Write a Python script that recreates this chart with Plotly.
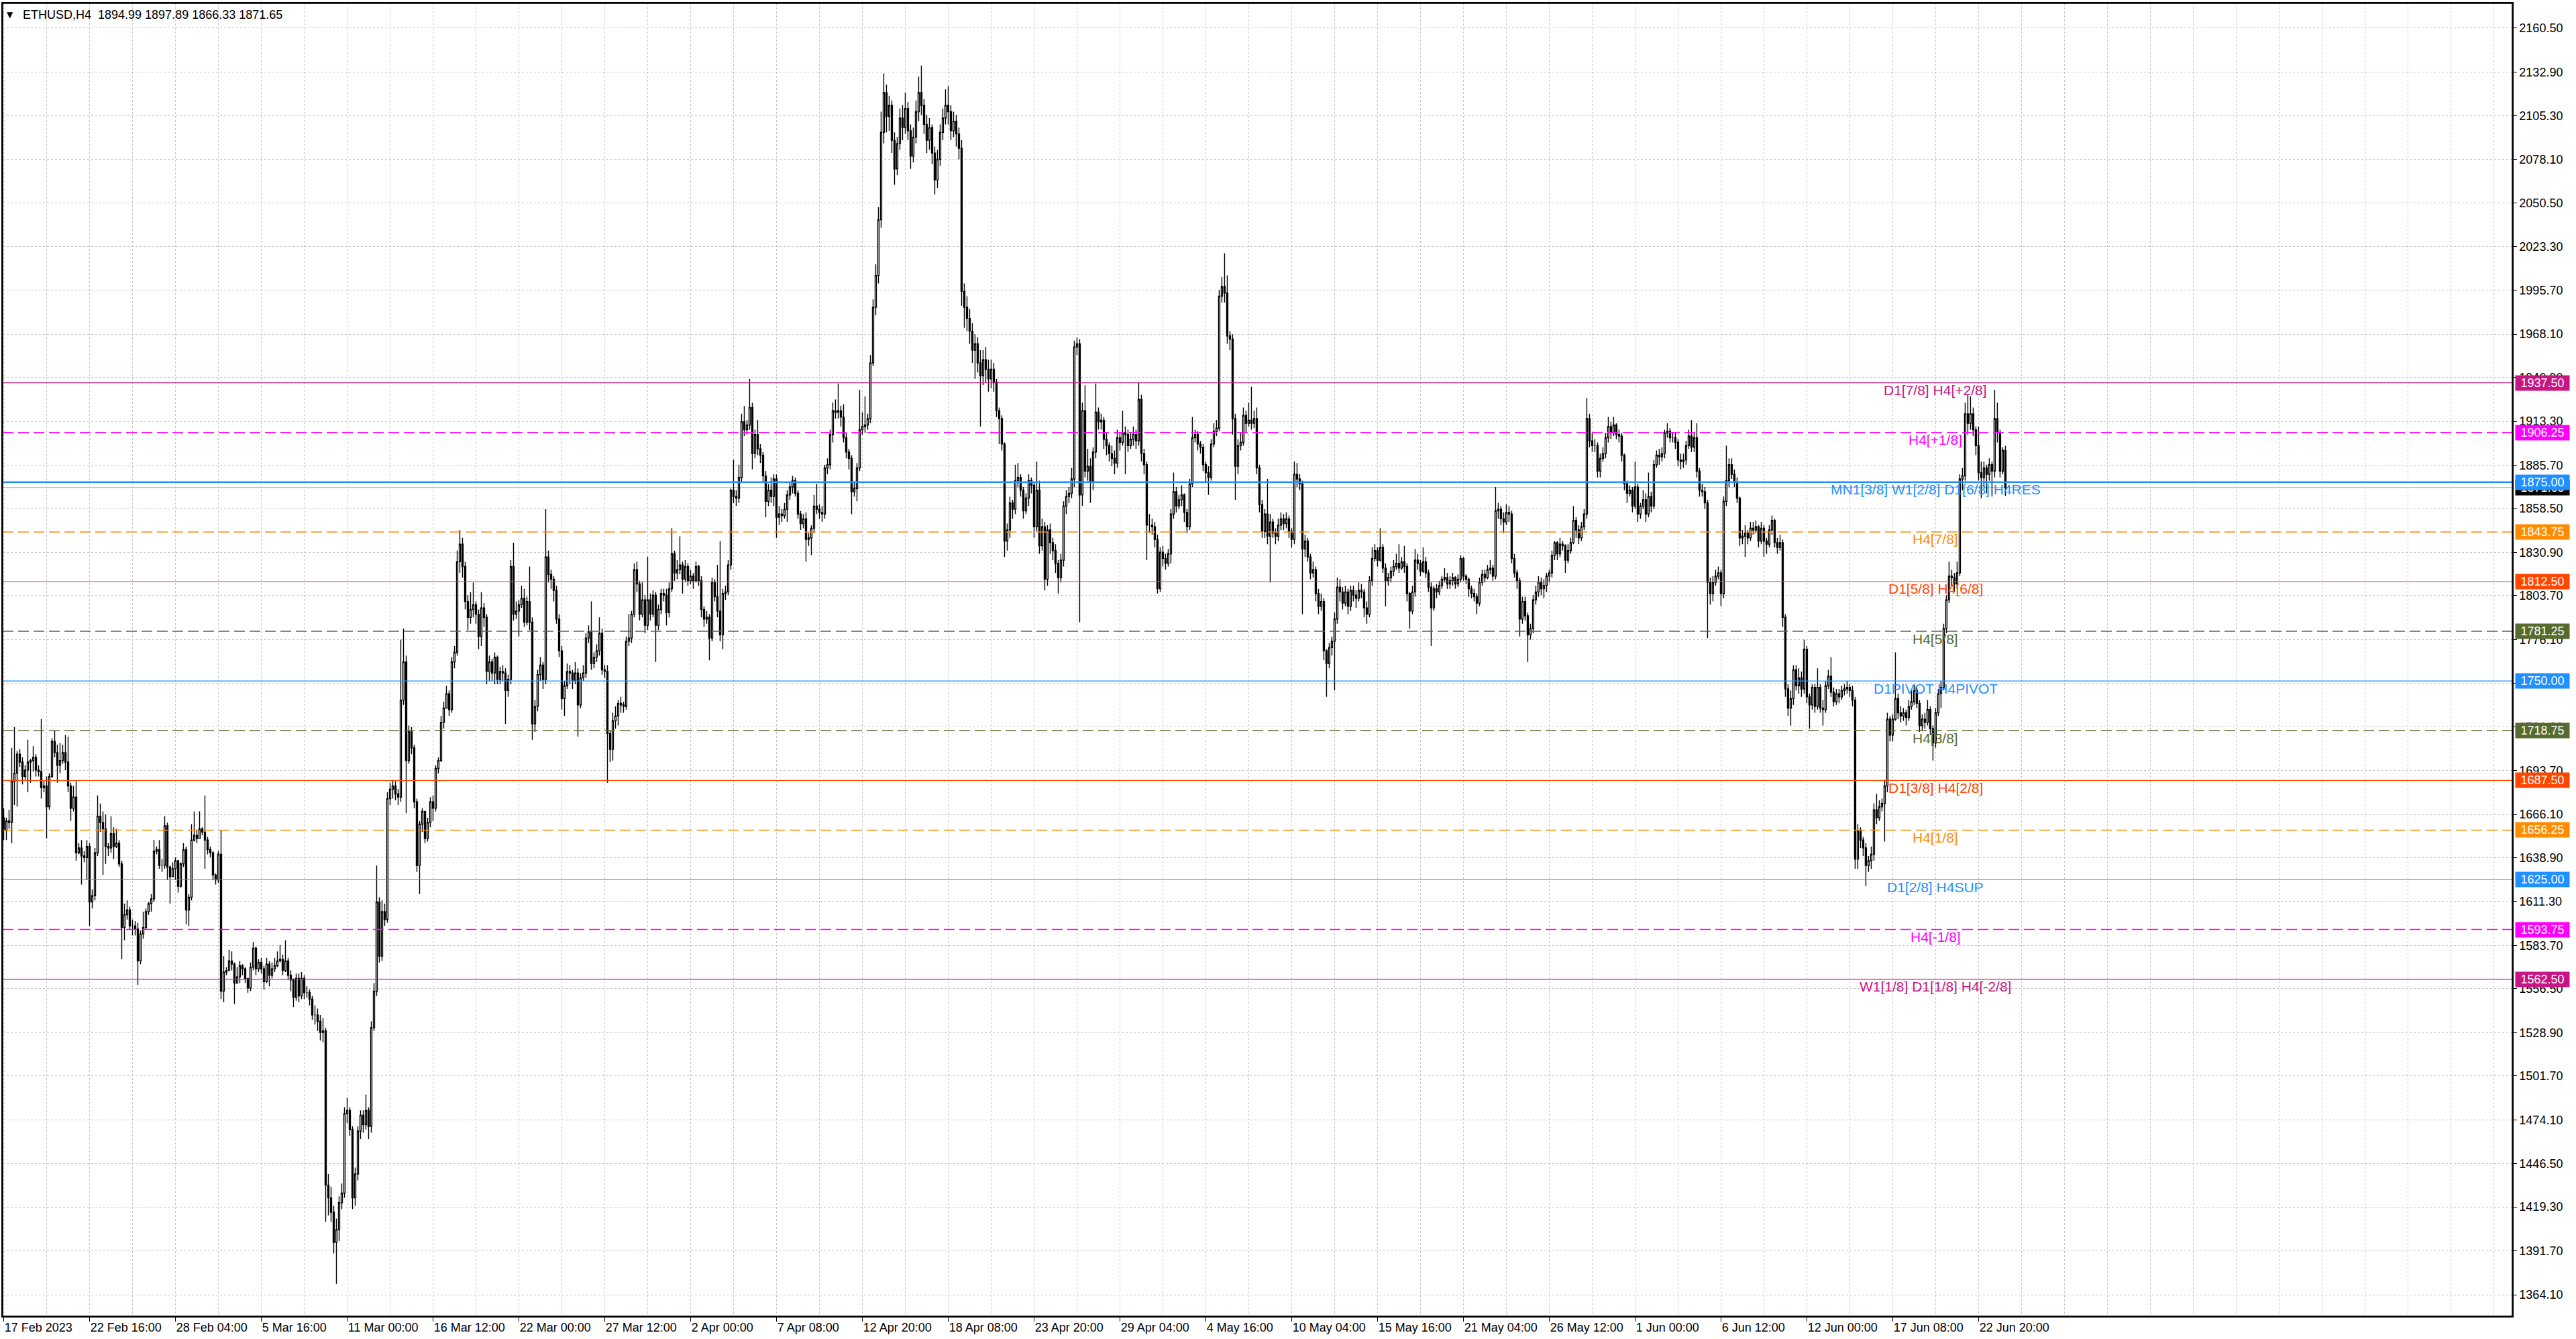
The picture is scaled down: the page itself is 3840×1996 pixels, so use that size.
import plotly.graph_objects as go

symbol = "ETHUSD,H4"

opens = [
1664,1656,1662,1661,1687,1692,1704,1699,1690,1694,
1699,1700,1702,1694,1693,1683,1684,1671,1690,1712,
1705,1697,1700,1705,1699,1684,1670,1677,1642,1645,
1640,1639,1646,1611,1615,1642,1665,1661,1657,1646,
1645,1654,1646,1648,1635,1595,1603,1606,1596,1596,
1594,1574,1591,1595,1605,1610,1613,1643,1644,1634,
1634,1659,1633,1627,1632,1637,1621,1635,1644,1606,
1614,1650,1653,1651,1657,1655,1650,1644,1642,1628,
1625,1641,1555,1567,1568,1574,1572,1560,1564,1571,
1569,1563,1557,1570,1582,1569,1573,1569,1561,1572,
1565,1569,1571,1574,1575,1568,1574,1565,1562,1551,
1563,1552,1563,1554,1554,1550,1540,1540,1536,1529,
1530,1433,1425,1416,1397,1405,1422,1428,1478,1480,
1468,1425,1440,1467,1477,1471,1480,1470,1532,1555,
1611,1577,1605,1600,1676,1682,1684,1679,1677,1738,
1762,1700,1718,1708,1674,1634,1660,1668,1651,1661,
1674,1670,1695,1700,1724,1733,1742,1732,1762,1768,
1825,1836,1822,1800,1790,1795,1798,1792,1778,1796,
1790,1756,1762,1755,1765,1751,1756,1755,1744,1751,
1822,1792,1794,1798,1802,1787,1800,1787,1723,1734,
1754,1760,1751,1828,1817,1814,1807,1789,1769,1739,
1747,1756,1755,1750,1755,1735,1752,1755,1777,1781,
1761,1765,1769,1780,1757,1756,1717,1707,1725,1728,
1736,1735,1734,1775,1777,1792,1820,1811,1792,1801,
1785,1801,1792,1804,1785,1795,1805,1804,1793,1808,
1830,1818,1820,1823,1814,1822,1813,1816,1813,1822,
1813,1795,1789,1790,1777,1812,1803,1794,1779,1805,
1806,1823,1870,1866,1865,1878,1913,1908,1911,1922,
1893,1905,1896,1892,1879,1863,1870,1866,1877,1853,
1855,1854,1858,1867,1872,1876,1868,1855,1849,1852,
1839,1840,1846,1860,1858,1856,1855,1884,1886,1905,
1920,1919,1920,1916,1903,1894,1890,1869,1871,1884,
1908,1910,1911,1915,1950,1985,2005,2040,2095,2120,
2105,2112,2090,2072,2088,2104,2098,2110,2096,2080,
2092,2108,2120,2112,2100,2090,2098,2082,2065,2078,
2095,2104,2112,2108,2096,2102,2094,2085,1995,1985,
1978,1970,1958,1962,1950,1942,1952,1946,1940,1946,
1938,1920,1915,1899,1838,1845,1862,1858,1876,1878,
1870,1857,1865,1876,1873,1847,1870,1835,1847,1814,
1845,1837,1832,1824,1815,1826,1860,1866,1868,1877,
1960,1962,1867,1920,1882,1885,1875,1894,1919,1913,
1914,1902,1898,1893,1890,1887,1903,1900,1906,1905,
1898,1902,1905,1901,1927,1893,1886,1848,1848,1847,
1839,1808,1831,1827,1824,1830,1855,1869,1860,1864,
1867,1856,1847,1874,1903,1905,1899,1897,1886,1881,
1878,1899,1907,1909,1992,1998,1994,1967,1965,1915,
1885,1898,1900,1917,1912,1914,1912,1915,1884,1861,
1844,1855,1841,1850,1843,1841,1848,1852,1849,1852,
1844,1839,1880,1877,1874,1833,1838,1828,1818,1820,
1805,1797,1800,1769,1761,1771,1775,1789,1809,1806,
1799,1806,1797,1807,1804,1802,1807,1806,1796,1792,
1813,1827,1832,1826,1834,1821,1813,1815,1819,1822,
1824,1821,1825,1822,1805,1794,1806,1826,1824,1819,
1825,1818,1809,1796,1808,1806,1810,1814,1815,1811,
1813,1815,1811,1814,1827,1816,1814,1808,1805,1803,
1799,1812,1817,1815,1820,1821,1816,1857,1858,1852,
1850,1856,1855,1827,1818,1813,1789,1800,1791,1779,
1783,1801,1806,1812,1808,1810,1816,1818,1829,1837,
1830,1836,1835,1826,1832,1837,1851,1845,1840,1847,
1855,1915,1901,1898,1898,1882,1890,1893,1903,1910,
1906,1911,1905,1904,1892,1874,1868,1870,1860,1872,
1855,1860,1864,1855,1866,1860,1886,1892,1891,1893,
1906,1907,1903,1903,1900,1889,1888,1889,1898,1904,
1897,1903,1882,1870,1869,1862,1812,1805,1812,1816,
1818,1805,1863,1876,1886,1880,1875,1865,1840,1841,
1843,1840,1846,1845,1847,1838,1846,1838,1836,1845,
1851,1837,1834,1837,1790,1745,1733,1739,1757,1747,
1752,1745,1770,1740,1735,1746,1734,1746,1733,1732,
1747,1753,1743,1737,1742,1740,1744,1745,1746,1744,
1738,1638,1656,1650,1645,1634,1637,1641,1669,1664,
1671,1673,1684,1726,1716,1726,1739,1730,1728,1730,
1727,1734,1737,1744,1736,1722,1726,1724,1732,1720,
1711,1730,1742,1746,1783,1801,1816,1815,1811,1818,
1877,1879,1918,1912,1918,1908,1898,1881,1878,1884,
1880,1886,1882,1915,1906,1882,1894.99,
]

highs = [
1670,1664,1669,1708,1721,1706,1707,1702,1697,1713,
1701,1709,1704,1697,1726,1687,1690,1692,1714,1719,
1710,1711,1710,1716,1715,1686,1684,1687,1648,1650,
1643,1650,1648,1619,1645,1678,1673,1668,1666,1648,
1665,1658,1657,1650,1637,1610,1612,1608,1600,1599,
1598,1593,1605,1607,1611,1616,1650,1646,1650,1638,
1665,1661,1634,1636,1639,1637,1636,1648,1646,1616,
1660,1668,1656,1668,1658,1678,1652,1646,1643,1629,
1643,1656,1577,1570,1581,1580,1573,1570,1574,1572,
1570,1563,1573,1586,1583,1575,1576,1571,1576,1574,
1573,1576,1580,1584,1578,1587,1576,1568,1563,1566,
1566,1567,1565,1558,1556,1552,1546,1544,1540,1538,
1532,1440,1432,1420,1412,1426,1434,1482,1488,1482,
1470,1444,1470,1480,1480,1490,1482,1536,1560,1634,
1614,1612,1610,1680,1686,1688,1687,1682,1776,1783,
1766,1722,1721,1710,1676,1662,1670,1668,1664,1677,
1678,1697,1702,1728,1737,1747,1744,1765,1772,1832,
1845,1840,1825,1804,1806,1812,1800,1795,1806,1799,
1792,1766,1764,1768,1766,1759,1760,1758,1754,1826,
1837,1800,1801,1810,1808,1803,1822,1790,1738,1757,
1765,1762,1858,1832,1820,1816,1810,1792,1772,1750,
1761,1760,1757,1762,1758,1755,1760,1780,1785,1800,
1768,1773,1790,1783,1760,1760,1719,1730,1734,1738,
1740,1737,1778,1792,1794,1824,1825,1813,1812,1804,
1828,1805,1807,1806,1798,1808,1808,1808,1812,1846,
1832,1826,1841,1825,1826,1824,1820,1818,1825,1823,
1816,1797,1794,1792,1815,1814,1823,1838,1808,1810,
1826,1871,1889,1870,1886,1918,1923,1914,1940,1925,
1908,1914,1899,1894,1882,1874,1878,1880,1880,1860,
1858,1862,1870,1875,1879,1878,1870,1857,1855,1856,
1843,1848,1867,1874,1861,1860,1886,1890,1908,1925,
1927,1937,1923,1924,1906,1896,1892,1875,1887,1933,
1919,1929,1918,1955,1990,2012,2048,2108,2132,2125,
2118,2115,2095,2092,2110,2112,2120,2114,2100,2098,
2115,2130,2137,2116,2106,2104,2100,2086,2084,2100,
2110,2122,2124,2112,2108,2106,2098,2090,2000,1992,
1984,1975,1968,1966,1958,1958,1960,1952,1952,1950,
1940,1922,1917,1900,1849,1866,1864,1886,1887,1880,
1872,1868,1880,1878,1875,1888,1876,1852,1850,1848,
1849,1840,1836,1826,1830,1863,1870,1872,1884,1964,
1966,1965,1925,1936,1896,1890,1897,1937,1922,1918,
1916,1906,1900,1898,1895,1908,1906,1920,1910,1908,
1906,1910,1908,1938,1930,1896,1888,1855,1852,1850,
1842,1834,1835,1830,1833,1858,1881,1872,1867,1873,
1868,1858,1877,1916,1908,1907,1901,1899,1888,1885,
1902,1912,1914,1996,2004,2019,2005,1970,1968,1918,
1902,1906,1922,1920,1925,1935,1920,1922,1886,1864,
1858,1877,1855,1852,1846,1852,1856,1855,1856,1854,
1846,1888,1887,1880,1876,1842,1840,1830,1825,1822,
1808,1805,1802,1770,1774,1778,1793,1815,1814,1809,
1810,1808,1810,1810,1807,1812,1811,1808,1800,1816,
1834,1836,1834,1846,1836,1824,1818,1822,1826,1830,
1836,1828,1835,1824,1806,1810,1833,1830,1826,1834,
1828,1820,1812,1810,1811,1813,1816,1821,1818,1816,
1818,1816,1817,1829,1828,1817,1815,1810,1808,1805,
1815,1820,1820,1823,1826,1823,1872,1862,1860,1856,
1861,1860,1857,1830,1820,1815,1803,1803,1793,1786,
1804,1810,1816,1815,1814,1818,1820,1832,1838,1838,
1840,1838,1836,1836,1840,1860,1853,1848,1850,1858,
1928,1918,1906,1902,1900,1893,1897,1906,1916,1913,
1916,1912,1908,1906,1893,1876,1873,1872,1888,1874,
1862,1870,1868,1881,1869,1889,1895,1896,1897,1908,
1912,1909,1906,1906,1902,1893,1893,1901,1908,1914,
1906,1912,1884,1874,1872,1864,1815,1816,1820,1822,
1820,1866,1898,1890,1890,1883,1878,1866,1845,1848,
1845,1850,1850,1851,1848,1850,1848,1840,1848,1854,
1852,1840,1842,1839,1792,1748,1744,1760,1760,1758,
1756,1776,1772,1742,1748,1748,1758,1748,1738,1750,
1757,1765,1746,1745,1745,1747,1748,1750,1748,1747,
1740,1660,1658,1652,1648,1640,1646,1673,1679,1675,
1676,1688,1730,1728,1729,1768,1742,1734,1733,1732,
1738,1744,1748,1746,1738,1729,1730,1738,1734,1722,
1733,1745,1750,1786,1804,1825,1820,1818,1825,1880,
1884,1925,1930,1929,1922,1910,1910,1888,1888,1886,
1890,1888,1933,1925,1908,1897,1897.89,
]

lows = [
1650,1650,1657,1648,1672,1671,1696,1685,1688,1680,
1686,1693,1690,1690,1676,1680,1651,1669,1689,1702,
1686,1692,1698,1694,1680,1662,1668,1637,1641,1622,
1636,1625,1596,1607,1612,1640,1655,1628,1635,1640,
1642,1638,1645,1633,1575,1587,1600,1594,1590,1590,
1559,1572,1588,1594,1603,1605,1611,1641,1632,1630,
1632,1625,1610,1627,1625,1617,1620,1633,1597,1596,
1612,1649,1648,1651,1653,1632,1641,1639,1625,1622,
1623,1550,1548,1565,1568,1568,1547,1560,1560,1565,
1560,1554,1555,1568,1565,1567,1566,1556,1560,1558,
1563,1567,1570,1573,1565,1567,1562,1555,1545,1549,
1548,1550,1550,1551,1546,1537,1534,1530,1524,1523,
1410,1414,1410,1390,1371,1398,1418,1425,1472,1464,
1418,1420,1436,1462,1466,1468,1462,1466,1530,1552,
1573,1574,1596,1598,1672,1676,1675,1672,1674,1735,
1667,1698,1704,1670,1630,1616,1655,1648,1649,1658,
1662,1668,1692,1699,1720,1733,1728,1730,1758,1766,
1818,1815,1795,1782,1786,1790,1786,1770,1772,1784,
1748,1750,1750,1748,1748,1748,1750,1723,1740,1748,
1788,1789,1778,1796,1784,1785,1782,1713,1718,1731,
1750,1745,1748,1812,1808,1800,1786,1765,1732,1728,
1745,1748,1745,1748,1715,1733,1750,1752,1774,1757,
1758,1762,1766,1754,1752,1686,1699,1700,1720,1722,
1730,1730,1732,1772,1774,1790,1806,1788,1790,1780,
1782,1788,1790,1762,1782,1792,1800,1785,1790,1806,
1813,1814,1817,1805,1812,1810,1811,1808,1812,1810,
1790,1784,1786,1763,1775,1800,1790,1775,1770,1801,
1804,1820,1862,1860,1862,1875,1904,1905,1908,1883,
1890,1892,1887,1875,1853,1860,1862,1860,1840,1848,
1850,1852,1850,1864,1868,1866,1852,1845,1846,1825,
1835,1829,1843,1855,1852,1850,1852,1880,1883,1900,
1915,1915,1910,1900,1890,1883,1855,1866,1863,1882,
1905,1906,1908,1912,1948,1980,2000,2035,2088,2095,
2096,2082,2062,2068,2084,2090,2094,2090,2072,2076,
2088,2102,2106,2094,2082,2084,2075,2056,2060,2074,
2090,2100,2100,2090,2092,2086,2078,1986,1972,1970,
1962,1950,1940,1944,1910,1936,1938,1932,1934,1932,
1916,1899,1895,1828,1832,1840,1852,1855,1872,1866,
1852,1855,1860,1868,1840,1844,1830,1832,1807,1810,
1830,1826,1818,1805,1812,1822,1855,1862,1865,1872,
1955,1787,1860,1878,1876,1862,1870,1890,1908,1908,
1896,1892,1888,1885,1880,1884,1895,1898,1880,1894,
1896,1898,1896,1898,1888,1880,1826,1843,1842,1834,
1805,1806,1822,1820,1822,1824,1852,1856,1858,1860,
1850,1843,1845,1872,1900,1895,1893,1882,1875,1867,
1876,1897,1904,1907,1988,1988,1962,1958,1905,1864,
1880,1895,1898,1906,1910,1908,1909,1880,1856,1840,
1840,1836,1812,1840,1836,1838,1845,1845,1846,1840,
1834,1836,1872,1870,1792,1828,1825,1814,1815,1800,
1792,1794,1763,1740,1758,1766,1744,1786,1800,1795,
1797,1792,1794,1800,1796,1800,1802,1790,1786,1790,
1810,1825,1822,1825,1818,1797,1810,1812,1816,1820,
1818,1820,1818,1800,1783,1792,1803,1820,1816,1818,
1815,1806,1772,1794,1802,1804,1808,1812,1808,1808,
1810,1808,1809,1812,1813,1811,1803,1802,1800,1792,
1797,1810,1812,1814,1817,1813,1814,1852,1848,1843,
1848,1850,1824,1815,1808,1778,1786,1788,1762,1776,
1780,1798,1803,1804,1802,1806,1812,1815,1826,1826,
1828,1832,1818,1824,1830,1836,1840,1836,1838,1845,
1852,1897,1894,1894,1878,1878,1888,1890,1900,1902,
1904,1902,1900,1888,1870,1862,1866,1856,1858,1850,
1852,1858,1850,1853,1856,1858,1884,1886,1888,1890,
1903,1900,1900,1896,1885,1883,1884,1886,1896,1894,
1894,1878,1866,1866,1858,1777,1798,1800,1810,1814,
1797,1802,1860,1872,1877,1872,1862,1835,1836,1828,
1836,1838,1842,1843,1834,1836,1828,1830,1834,1842,
1834,1830,1832,1784,1740,1728,1722,1735,1744,1742,
1740,1742,1736,1720,1732,1730,1732,1730,1722,1730,
1745,1740,1734,1735,1736,1738,1741,1742,1740,1734,
1632,1632,1645,1640,1621,1630,1632,1637,1660,1662,
1668,1649,1680,1712,1712,1725,1726,1724,1725,1722,
1725,1732,1735,1733,1718,1719,1720,1722,1716,1700,
1708,1728,1733,1744,1780,1799,1810,1806,1808,1816,
1870,1876,1905,1908,1904,1892,1876,1865,1872,1868,
1876,1866,1878,1900,1878,1880,1866.33,
]

closes = [
1656,1662,1661,1687,1692,1704,1699,1690,1694,1699,
1700,1702,1694,1693,1683,1684,1671,1690,1712,1705,
1697,1700,1705,1699,1684,1670,1677,1642,1645,1640,
1639,1646,1611,1615,1642,1665,1661,1657,1646,1645,
1654,1646,1648,1635,1595,1603,1606,1596,1596,1594,
1574,1591,1595,1605,1610,1613,1643,1644,1634,1634,
1659,1633,1627,1632,1637,1621,1635,1644,1606,1614,
1650,1653,1651,1657,1655,1650,1644,1642,1628,1625,
1641,1555,1567,1568,1574,1572,1560,1564,1571,1569,
1563,1557,1570,1582,1569,1573,1569,1561,1572,1565,
1569,1571,1574,1575,1568,1574,1565,1562,1551,1563,
1552,1563,1554,1554,1550,1540,1540,1536,1529,1530,
1433,1425,1416,1397,1405,1422,1428,1478,1480,1468,
1425,1440,1467,1477,1471,1480,1470,1532,1555,1611,
1577,1605,1600,1676,1682,1684,1679,1677,1738,1762,
1700,1718,1708,1674,1634,1660,1668,1651,1661,1674,
1670,1695,1700,1724,1733,1742,1732,1762,1768,1825,
1836,1822,1800,1790,1795,1798,1792,1778,1796,1790,
1756,1762,1755,1765,1751,1756,1755,1744,1751,1822,
1792,1794,1798,1802,1787,1800,1787,1723,1734,1754,
1760,1751,1828,1817,1814,1807,1789,1769,1739,1747,
1756,1755,1750,1755,1735,1752,1755,1777,1781,1761,
1765,1769,1780,1757,1756,1717,1707,1725,1728,1736,
1735,1734,1775,1777,1792,1820,1811,1792,1801,1785,
1801,1792,1804,1785,1795,1805,1804,1793,1808,1830,
1818,1820,1823,1814,1822,1813,1816,1813,1822,1813,
1795,1789,1790,1777,1812,1803,1794,1779,1805,1806,
1823,1870,1866,1865,1878,1913,1908,1911,1922,1893,
1905,1896,1892,1879,1863,1870,1866,1877,1853,1855,
1854,1858,1867,1872,1876,1868,1855,1849,1852,1839,
1840,1846,1860,1858,1856,1855,1884,1886,1905,1920,
1919,1920,1916,1903,1894,1890,1869,1871,1884,1908,
1910,1911,1915,1950,1985,2005,2040,2095,2120,2105,
2112,2090,2072,2088,2104,2098,2110,2096,2080,2092,
2108,2120,2112,2100,2090,2098,2082,2065,2078,2095,
2104,2112,2108,2096,2102,2094,2085,1995,1985,1978,
1970,1958,1962,1950,1942,1952,1946,1940,1946,1938,
1920,1915,1899,1838,1845,1862,1858,1876,1878,1870,
1857,1865,1876,1873,1847,1870,1835,1847,1814,1845,
1837,1832,1824,1815,1826,1860,1866,1868,1877,1960,
1962,1867,1920,1882,1885,1875,1894,1919,1913,1914,
1902,1898,1893,1890,1887,1903,1900,1906,1905,1898,
1902,1905,1901,1927,1893,1886,1848,1848,1847,1839,
1808,1831,1827,1824,1830,1855,1869,1860,1864,1867,
1856,1847,1874,1903,1905,1899,1897,1886,1881,1878,
1899,1907,1909,1992,1998,1994,1967,1965,1915,1885,
1898,1900,1917,1912,1914,1912,1915,1884,1861,1844,
1855,1841,1850,1843,1841,1848,1852,1849,1852,1844,
1839,1880,1877,1874,1833,1838,1828,1818,1820,1805,
1797,1800,1769,1761,1771,1775,1789,1809,1806,1799,
1806,1797,1807,1804,1802,1807,1806,1796,1792,1813,
1827,1832,1826,1834,1821,1813,1815,1819,1822,1824,
1821,1825,1822,1805,1794,1806,1826,1824,1819,1825,
1818,1809,1796,1808,1806,1810,1814,1815,1811,1813,
1815,1811,1814,1827,1816,1814,1808,1805,1803,1799,
1812,1817,1815,1820,1821,1816,1857,1858,1852,1850,
1856,1855,1827,1818,1813,1789,1800,1791,1779,1783,
1801,1806,1812,1808,1810,1816,1818,1829,1837,1830,
1836,1835,1826,1832,1837,1851,1845,1840,1847,1855,
1915,1901,1898,1898,1882,1890,1893,1903,1910,1906,
1911,1905,1904,1892,1874,1868,1870,1860,1872,1855,
1860,1864,1855,1866,1860,1886,1892,1891,1893,1906,
1907,1903,1903,1900,1889,1888,1889,1898,1904,1897,
1903,1882,1870,1869,1862,1812,1805,1812,1816,1818,
1805,1863,1876,1886,1880,1875,1865,1840,1841,1843,
1840,1846,1845,1847,1838,1846,1838,1836,1845,1851,
1837,1834,1837,1790,1745,1733,1739,1757,1747,1752,
1745,1770,1740,1735,1746,1734,1746,1733,1732,1747,
1753,1743,1737,1742,1740,1744,1745,1746,1744,1738,
1638,1656,1650,1645,1634,1637,1641,1669,1664,1671,
1673,1684,1726,1716,1726,1739,1730,1728,1730,1727,
1734,1737,1744,1736,1722,1726,1724,1732,1720,1711,
1730,1742,1746,1783,1801,1816,1815,1811,1818,1877,
1879,1918,1912,1918,1908,1898,1881,1878,1884,1880,
1886,1882,1915,1906,1882,1894.99,1871.65,
]

date_labels = [
    "17 Feb 2023", "22 Feb 16:00", "28 Feb 04:00", "5 Mar 16:00", "11 Mar 00:00",
    "16 Mar 12:00", "22 Mar 00:00", "27 Mar 12:00", "2 Apr 00:00", "7 Apr 08:00",
    "12 Apr 20:00", "18 Apr 08:00", "23 Apr 20:00", "29 Apr 04:00", "4 May 16:00",
    "10 May 04:00", "15 May 16:00", "21 May 04:00", "26 May 12:00", "1 Jun 00:00",
    "6 Jun 12:00", "12 Jun 00:00", "17 Jun 08:00", "22 Jun 20:00",
]

price_ticks = [
    2160.50, 2132.90, 2105.30, 2078.10, 2050.50, 2023.30, 1995.70, 1968.10,
    1940.90, 1913.30, 1885.70, 1858.50, 1830.90, 1803.70, 1776.10, 1748.50,
    1721.30, 1693.70, 1666.10, 1638.90, 1611.30, 1583.70, 1556.50, 1528.90,
    1501.70, 1474.10, 1446.50, 1419.30, 1391.70, 1364.10,
]

level_prices = [1937.50, 1906.25, 1875.00, 1843.75, 1812.50, 1781.25, 1750.00,
                1718.75, 1687.50, 1656.25, 1625.00, 1593.75, 1562.50]
level_names = [
    "D1[7/8] H4[+2/8]", "H4[+1/8]", "MN1[3/8] W1[2/8] D1[6/8] H4RES", "H4[7/8]",
    "D1[5/8] H4[6/8]", "H4[5/8]", "D1PIVOT H4PIVOT", "H4[3/8]", "D1[3/8] H4[2/8]",
    "H4[1/8]", "D1[2/8] H4SUP", "H4[-1/8]", "W1[1/8] D1[1/8] H4[-2/8]",
]

# ---- styles (kept apart from the data) ----
level_colors = ["#C71585", "#FF00FF", "#1E90FF", "#FF8C00", "#FF4500", "#556B2F", "#1E90FF",
                "#556B2F", "#FF4500", "#FF8C00", "#1E90FF", "#FF00FF", "#C71585"]
level_dash = ["solid", "16px,7px", "solid", "16px,7px", "solid", "16px,7px", "solid",
              "16px,7px", "solid", "16px,7px", "solid", "16px,7px", "solid"]
level_width = [1.2, 1.5, 2.5, 1.5, 1.2, 1.5, 1.2, 1.5, 1.2, 1.5, 1.2, 1.5, 1.2]

n = min(len(opens), len(highs), len(lows), len(closes))
bars = list(range(n))
bars_per_label = 32
tick_bars = [i * bars_per_label for i in range(len(date_labels))]

X_MIN, X_MAX = -0.375, 934.9
Y_MIN, Y_MAX = 1350.6, 2176.1
LABEL_BAR = 720

AX_FONT = dict(family="Liberation Sans, Arial", size=18, color="black")
GRID = "#C4C4C4"

fig = go.Figure()
fig.add_trace(go.Candlestick(
    x=bars, open=opens[:n], high=highs[:n], low=lows[:n], close=closes[:n],
    increasing=dict(line=dict(color="black", width=1.4), fillcolor="white"),
    decreasing=dict(line=dict(color="black", width=1.4), fillcolor="black"),
    whiskerwidth=0, hoverinfo="skip", showlegend=False,
))

shapes = []
annotations = []

# bid line (last close)
last_close = closes[n - 1]
shapes.append(dict(type="line", xref="x", yref="y", x0=X_MIN, x1=X_MAX, y0=last_close, y1=last_close,
                   line=dict(color="#A8A8A8", width=1), layer="below"))
annotations.append(dict(xref="paper", yref="y", x=1, y=last_close, xanchor="left", yanchor="middle",
                        xshift=4, text=f"{last_close:.2f}", showarrow=False, bgcolor="black",
                        font=dict(AX_FONT, color="white"), width=80, height=22, borderpad=0))

for p, name, col, dash, w in zip(level_prices, level_names, level_colors, level_dash, level_width):
    shapes.append(dict(type="line", xref="x", yref="y", x0=X_MIN, x1=X_MAX, y0=p, y1=p,
                       line=dict(color=col, width=w, dash=dash), layer="above"))
    annotations.append(dict(xref="x", yref="y", x=LABEL_BAR, y=p, xanchor="center", yanchor="middle",
                            yshift=-11, text=name, showarrow=False,
                            font=dict(family="Liberation Sans, Arial", size=21, color=col)))
    annotations.append(dict(xref="paper", yref="y", x=1, y=p, xanchor="left", yanchor="middle",
                            xshift=4, text=f"{p:.2f}", showarrow=False, bgcolor=col,
                            font=dict(AX_FONT, color="white"), width=80, height=22, borderpad=0))

# header
header = (f"{symbol}\u00a0\u00a0{opens[n-1]:.2f} {highs[n-1]:.2f} "
          f"{lows[n-1]:.2f} {closes[n-1]:.2f}")
annotations.append(dict(xref="paper", yref="paper", x=0, y=1, xanchor="left", yanchor="middle",
                        xshift=28, yshift=-17, text=header, showarrow=False,
                        font=dict(AX_FONT)))
annotations.append(dict(xref="paper", yref="paper", x=0, y=1, xanchor="center", yanchor="middle",
                        xshift=11, yshift=-17, text="\u25BC", showarrow=False,
                        font=dict(family="DejaVu Sans", size=12, color="black")))

# outer window frame
shapes.append(dict(type="rect", xref="paper", yref="paper", x0=0, x1=1, y0=0, y1=1,
                   line=dict(color="black", width=1.5), layer="above"))

fig.update_layout(
    width=3840, height=1996,
    margin=dict(l=4, r=95, t=5, b=34, autoexpand=False),
    paper_bgcolor="white", plot_bgcolor="white",
    showlegend=False,
    shapes=shapes, annotations=annotations,
    xaxis=dict(
        range=[X_MIN, X_MAX], rangeslider=dict(visible=False),
        tickmode="array", tickvals=tick_bars, ticktext=date_labels,
        ticks="outside", ticklen=6, tickcolor="black", tickwidth=1,
        ticklabelposition="outside right", tickangle=0, tickfont=AX_FONT,
        automargin=False,
        showgrid=True, gridcolor=GRID, griddash="3px,3px", gridwidth=1,
        minor=dict(tickmode="linear", tick0=0, dtick=16, showgrid=True, gridcolor=GRID,
                   griddash="3px,3px", gridwidth=1, ticks=""),
        showline=True, linecolor="black", linewidth=1.5, mirror=True,
        zeroline=False, fixedrange=True,
    ),
    yaxis=dict(
        range=[Y_MIN, Y_MAX], side="right",
        tickmode="array", tickvals=price_ticks, ticktext=[f"{v:.2f}" for v in price_ticks],
        ticks="outside", ticklen=5, tickcolor="black", tickwidth=1,
        tickfont=AX_FONT, automargin=False,
        showgrid=True, gridcolor=GRID, griddash="3px,3px", gridwidth=1,
        showline=True, linecolor="black", linewidth=1.5, mirror=True,
        zeroline=False, fixedrange=True,
    ),
)

fig.write_html("out.html", include_plotlyjs=True, full_html=True,
               config={"displayModeBar": False, "responsive": False},
               post_script="document.body.style.margin='0';document.body.style.overflow='hidden';")
